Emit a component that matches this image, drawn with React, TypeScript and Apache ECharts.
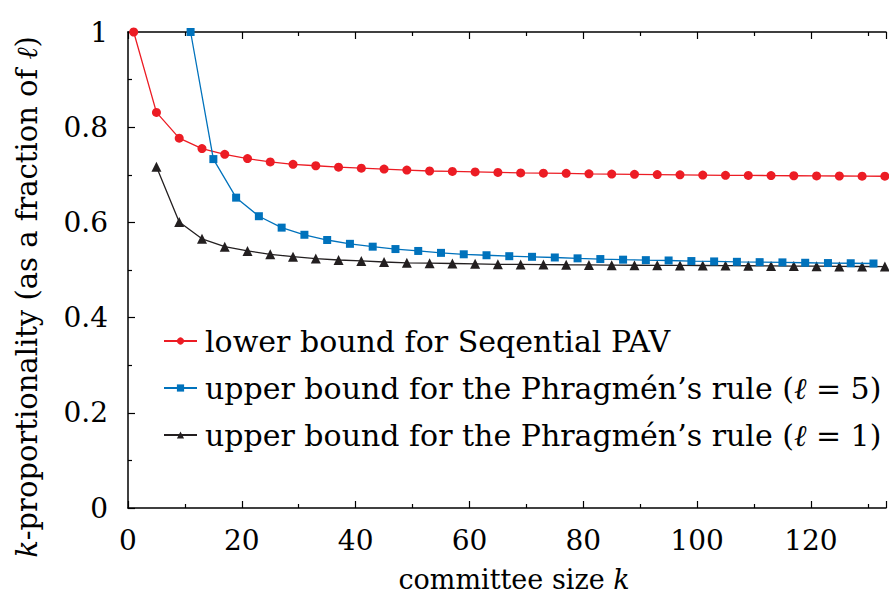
import React, { useEffect, useRef } from "react";
import * as echarts from "echarts";

const redK = [1, 5, 9, 13, 17, 21, 25, 29, 33, 37, 41, 45, 49, 53, 57, 61, 65, 69, 73, 77, 81, 85, 89, 93, 97, 101, 105, 109, 113, 117, 121, 125, 129, 133];
const redVals = [1.0, 0.831, 0.777, 0.755, 0.743, 0.734, 0.727, 0.722, 0.719, 0.716, 0.714, 0.712, 0.71, 0.708, 0.707, 0.706, 0.705, 0.704, 0.7035, 0.703, 0.702, 0.7015, 0.701, 0.7005, 0.7, 0.6995, 0.699, 0.6987, 0.6984, 0.698, 0.6977, 0.6975, 0.6972, 0.697];

const blueK = [11, 15, 19, 23, 27, 31, 35, 39, 43, 47, 51, 55, 59, 63, 67, 71, 75, 79, 83, 87, 91, 95, 99, 103, 107, 111, 115, 119, 123, 127, 131];
const blueVals = [1.0, 0.733, 0.652, 0.613, 0.589, 0.574, 0.563, 0.555, 0.549, 0.544, 0.54, 0.536, 0.533, 0.531, 0.529, 0.5277, 0.5263, 0.5245, 0.523, 0.5217, 0.5207, 0.52, 0.5188, 0.518, 0.5172, 0.5165, 0.516, 0.5152, 0.5146, 0.5142, 0.5137];

const blackK = [5, 9, 13, 17, 21, 25, 29, 33, 37, 41, 45, 49, 53, 57, 61, 65, 69, 73, 77, 81, 85, 89, 93, 97, 101, 105, 109, 113, 117, 121, 125, 129, 133];
const blackVals = [0.717, 0.601, 0.5655, 0.549, 0.54, 0.533, 0.528, 0.524, 0.521, 0.519, 0.5168, 0.515, 0.5143, 0.5137, 0.513, 0.512, 0.5118, 0.5115, 0.511, 0.5107, 0.5102, 0.51, 0.5099, 0.5097, 0.5095, 0.5092, 0.5089, 0.5086, 0.5082, 0.508, 0.5076, 0.5074, 0.5072];

const seriesNames = [
  "lower bound for Seqential PAV",
  "upper bound for the Phragmén’s rule (ℓ = 5)",
  "upper bound for the Phragmén’s rule (ℓ = 1)",
];

const xTickLabels = [0, 20, 40, 60, 80, 100, 120];
const yTickLabels = [0, 0.2, 0.4, 0.6, 0.8, 1];

const FONT = "DejaVu Serif";
const FS_LEGEND = 30;
const FS_TICK = 28;
const FS_XNAME = 27;
const FS_YNAME = 29;
const RED = "#ec1c24";
const BLUE = "#0072bc";
const BLACK = "#231f20";

const pair = (ks: number[], vs: number[]) => ks.map((k, i) => [k, vs[i]]);

export default function App() {
  const ref = useRef<HTMLDivElement>(null);
  useEffect(() => {
    if (!ref.current) return;
    const chart = echarts.init(ref.current, undefined, { renderer: "svg" });
    const axisLine = { show: true, lineStyle: { color: "#000", width: 1.5 } };
    const ital = (fs: number) => ({ fontFamily: FONT, fontStyle: "italic", fontSize: fs, color: "#000" });
    const tick = { show: true, inside: true, length: 7, lineStyle: { color: "#000", width: 1.2 } };
    const minor = { show: true, splitNumber: 2, length: 4, lineStyle: { color: "#000", width: 1.2 } };
    const option: any = {
      animation: false,
      backgroundColor: "#fff",
      textStyle: { fontFamily: FONT },
      grid: { left: 128, top: 32, right: 0, bottom: 94, containLabel: false },
      legend: {
        orient: "vertical",
        left: 158,
        top: 318,
        itemWidth: 33,
        itemHeight: 9,
        itemGap: 11,
        data: seriesNames,
        formatter: (n: string) => n.replace("ℓ", "{i|ℓ}"),
        textStyle: {
          fontFamily: FONT,
          fontSize: FS_LEGEND,
          color: "#000",
          lineHeight: 36,
          padding: [0, 0, 0, 3],
          rich: { i: ital(FS_LEGEND) },
        },
      },
      xAxis: [
        {
          type: "value",
          position: "bottom",
          min: 0,
          max: 133.2,
          interval: 20,
          axisLine,
          splitLine: { show: false },
          axisTick: tick,
          minorTick: minor,
          axisLabel: {
            margin: 18,
            fontFamily: FONT,
            fontSize: FS_TICK,
            color: "#000",
            formatter: (v: number) => (xTickLabels.includes(v) ? String(v) : ""),
          },
          name: "committee size {i|k}",
          nameLocation: "middle",
          nameGap: 58,
          nameTextStyle: {
            fontFamily: FONT,
            fontSize: FS_XNAME,
            color: "#000",
            padding: [0, 0, 0, 14],
            rich: { i: ital(FS_XNAME) },
          },
        },
        {
          type: "value",
          position: "top",
          min: 0,
          max: 133.2,
          interval: 20,
          axisLine,
          splitLine: { show: false },
          axisTick: tick,
          minorTick: minor,
          axisLabel: { show: false },
        },
      ],
      yAxis: {
        type: "value",
        min: 0,
        max: 1,
        interval: 0.2,
        axisLine,
        splitLine: { show: false },
        axisTick: tick,
        minorTick: minor,
        axisLabel: {
          margin: 20,
          fontFamily: FONT,
          fontSize: FS_TICK,
          color: "#000",
          formatter: (v: number) => {
            const m = yTickLabels.find((t) => Math.abs(t - v) < 1e-9);
            return m === undefined ? "" : String(m);
          },
        },
      },
      graphic: [
        {
          type: "text",
          x: 27,
          y: 297,
          rotation: Math.PI / 2,
          style: {
            text: "{i|k}-proportionality (as a fraction of {i|ℓ})",
            fontFamily: FONT,
            fontSize: FS_YNAME,
            fill: "#000",
            align: "center",
            verticalAlign: "middle",
            rich: { i: { fontFamily: FONT, fontStyle: "italic", fontSize: FS_YNAME, fill: "#000" } },
          },
        },
      ],
      series: [
        {
          name: seriesNames[0],
          type: "line",
          data: pair(redK, redVals),
          symbol: "circle",
          symbolSize: 9,
          showAllSymbol: true,
          clip: true,
          itemStyle: { color: RED },
          lineStyle: { color: RED, width: 1.3 },
          z: 3,
        },
        {
          name: seriesNames[1],
          type: "line",
          data: pair(blueK, blueVals),
          symbol: "rect",
          symbolSize: 8,
          showAllSymbol: true,
          clip: true,
          itemStyle: { color: BLUE },
          lineStyle: { color: BLUE, width: 1.3 },
          z: 4,
        },
        {
          name: seriesNames[2],
          type: "line",
          data: pair(blackK, blackVals),
          symbol: "triangle",
          symbolSize: 10,
          showAllSymbol: true,
          clip: true,
          itemStyle: { color: BLACK },
          lineStyle: { color: BLACK, width: 1.3 },
          z: 2,
        },
      ],
    };
    chart.setOption(option);
    return () => chart.dispose();
  }, []);
  return (
    <div
      ref={ref}
      style={{ position: "fixed", left: 0, top: 0, width: 889, height: 602, background: "#fff" }}
    />
  );
}
